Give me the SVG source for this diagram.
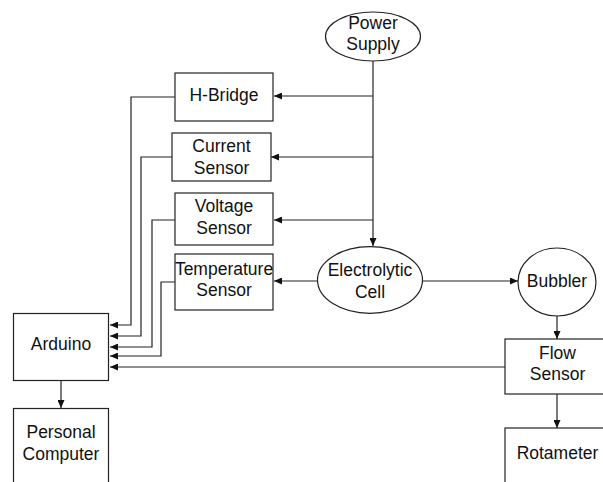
<svg xmlns="http://www.w3.org/2000/svg" width="603" height="482" viewBox="0 0 603 482">
<style>
.n{fill:#fff;stroke:#222;stroke-width:1.2}
.t{font-family:"Liberation Sans",Arial,sans-serif;font-size:17.5px;fill:#111;text-anchor:middle}
.c{fill:none;stroke:#222;stroke-width:1.2}
</style>
<defs>
<marker id="a" markerUnits="userSpaceOnUse" markerWidth="9" markerHeight="7" refX="8" refY="3.5" orient="auto">
<path d="M0,0 L8,3.5 L0,7 z" fill="#111"/>
</marker>
</defs>
<rect width="603" height="482" fill="#fff"/>
<g id="connectors">
<path class="c" d="M373,61 V246" marker-end="url(#a)"/>
<path class="c" d="M373,96 H274" marker-end="url(#a)"/>
<path class="c" d="M373,157 H271" marker-end="url(#a)"/>
<path class="c" d="M373,220 H274" marker-end="url(#a)"/>
<path class="c" d="M318,281 H274" marker-end="url(#a)"/>
<path class="c" d="M423,281 H518" marker-end="url(#a)"/>
<path class="c" d="M557,316 V339" marker-end="url(#a)"/>
<path class="c" d="M557,394 V428" marker-end="url(#a)"/>
<path class="c" d="M61,380 V408" marker-end="url(#a)"/>
<path class="c" d="M175,97 H131 V325 H110" marker-end="url(#a)"/>
<path class="c" d="M172,157 H141 V336 H110" marker-end="url(#a)"/>
<path class="c" d="M175,220 H152 V347 H110" marker-end="url(#a)"/>
<path class="c" d="M175,282 H161 V356 H110" marker-end="url(#a)"/>
<path class="c" d="M505,367 H110" marker-end="url(#a)"/>
</g>
<g id="power-supply">
<ellipse class="n" cx="373" cy="36.5" rx="47.5" ry="24.5"/>
<text class="t" x="373" y="28.5">Power</text>
<text class="t" x="373" y="50">Supply</text>
</g>
<g id="h-bridge">
<rect class="n" x="175" y="73" width="98" height="48"/>
<text class="t" x="224" y="101">H-Bridge</text>
</g>
<g id="current-sensor">
<rect class="n" x="172" y="133" width="99" height="48"/>
<text class="t" x="221.5" y="152">Current</text>
<text class="t" x="221.5" y="173.5">Sensor</text>
</g>
<g id="voltage-sensor">
<rect class="n" x="175" y="193" width="98" height="52"/>
<text class="t" x="224" y="212">Voltage</text>
<text class="t" x="224" y="233.5">Sensor</text>
</g>
<g id="temperature-sensor">
<rect class="n" x="175" y="254" width="98" height="56"/>
<text class="t" x="224" y="275">Temperature</text>
<text class="t" x="224" y="296">Sensor</text>
</g>
<g id="electrolytic-cell">
<ellipse class="n" cx="370" cy="280" rx="52.5" ry="33.3"/>
<text class="t" x="370" y="276">Electrolytic</text>
<text class="t" x="370" y="297.5">Cell</text>
</g>
<g id="bubbler">
<ellipse class="n" cx="557" cy="282" rx="39" ry="34"/>
<text class="t" x="557" y="287">Bubbler</text>
</g>
<g id="flow-sensor">
<rect class="n" x="505" y="339" width="100" height="55"/>
<text class="t" x="557.5" y="358.5">Flow</text>
<text class="t" x="557.5" y="380">Sensor</text>
</g>
<g id="rotameter">
<rect class="n" x="505" y="428" width="100" height="60"/>
<text class="t" x="557.5" y="458.5">Rotameter</text>
</g>
<g id="arduino">
<rect class="n" x="13.5" y="313.5" width="95" height="67"/>
<text class="t" x="61" y="350">Arduino</text>
</g>
<g id="personal-computer">
<rect class="n" x="13.5" y="408.5" width="95" height="80"/>
<text class="t" x="61" y="438">Personal</text>
<text class="t" x="61" y="460">Computer</text>
</g>
</svg>
